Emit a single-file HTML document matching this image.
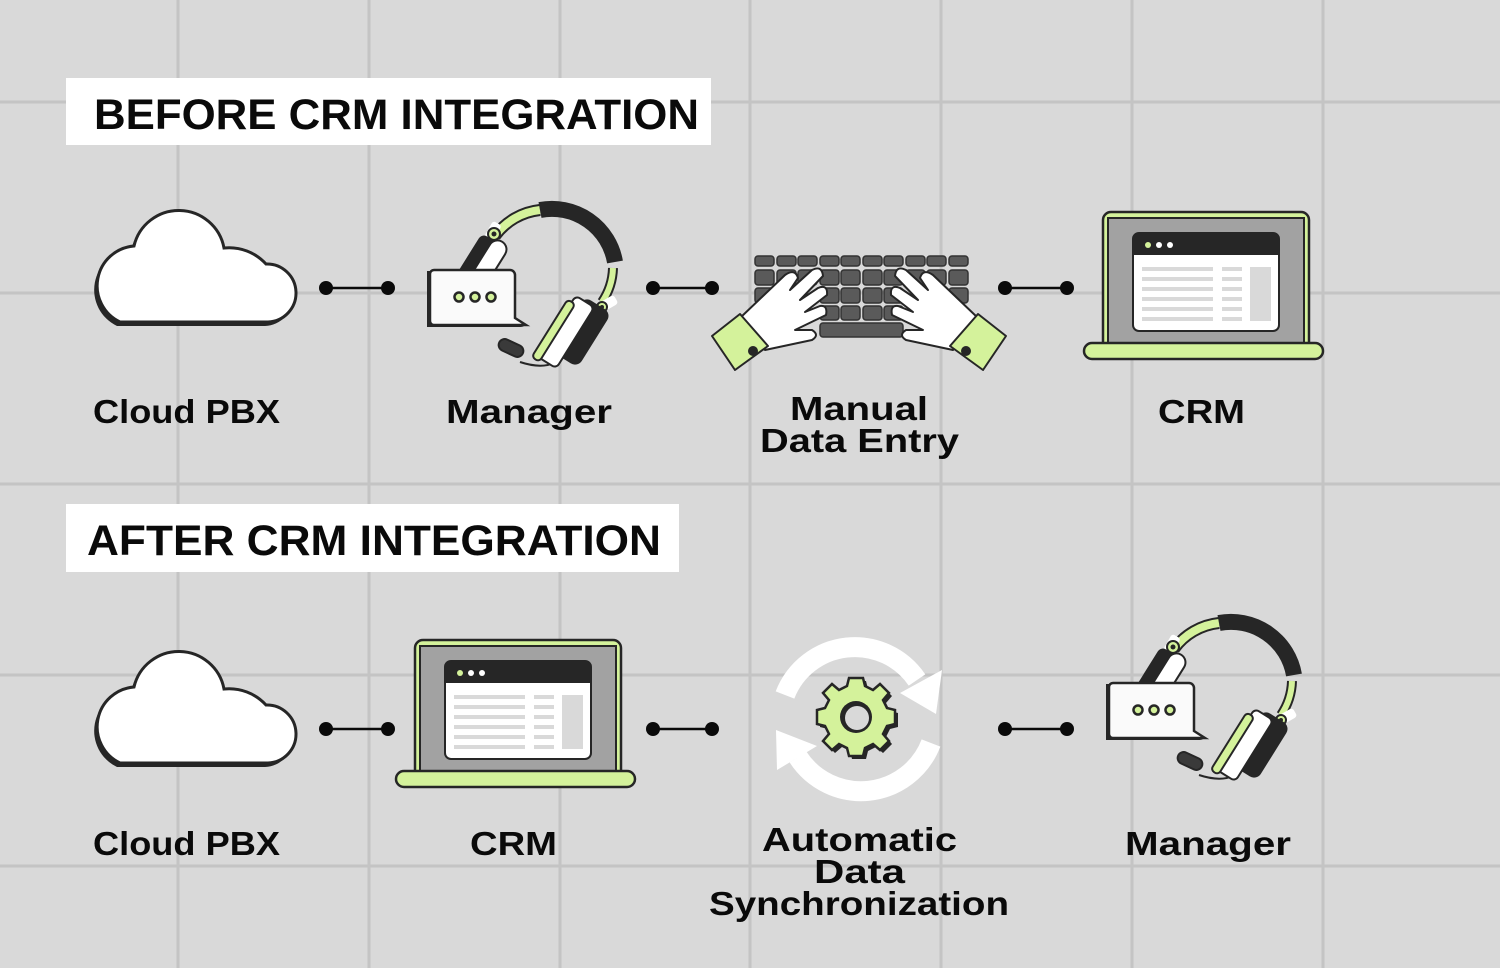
<!DOCTYPE html>
<html><head><meta charset="utf-8"><style>html,body{margin:0;padding:0;background:#d9d9d9}svg{display:block}text{font-family:"Liberation Sans",sans-serif;font-weight:bold;fill:#0a0a0a}</style></head>
<body>
<svg width="1500" height="968" viewBox="0 0 1500 968" xmlns="http://www.w3.org/2000/svg">
<defs>
<g id="cloud">
<path d="M120 326 H268 A29 29 0 0 0 266 268 A50 50 0 0 0 224 252 A46 46 0 0 0 134 250 A40 40 0 0 0 120 326 Z" fill="#262626" transform="translate(-3,0)"/>
<path d="M120 322 H268 A29 29 0 0 0 266 264 A50 50 0 0 0 224 248 A46 46 0 0 0 134 246 A40 40 0 0 0 120 322 Z" fill="#fff" stroke="#262626" stroke-width="3"/>
</g>
<g id="laptop">
<rect x="1103" y="212" width="206" height="140" rx="8" fill="#d4f29b" stroke="#262626" stroke-width="2.5"/>
<rect x="1108" y="218" width="196" height="130" fill="#a2a2a2" stroke="#262626" stroke-width="2"/>
<rect x="1133" y="233" width="146" height="98" rx="6" fill="#fff" stroke="#262626" stroke-width="2"/>
<path d="M1139 233 H1273 A6 6 0 0 1 1279 239 V255 H1133 V239 A6 6 0 0 1 1139 233Z" fill="#262626"/>
<circle cx="1148" cy="245" r="3" fill="#d4f29b"/><circle cx="1159" cy="245" r="3" fill="#fff"/><circle cx="1170" cy="245" r="3" fill="#fff"/>
<g fill="#d9d9d9">
<rect x="1142" y="267" width="71" height="4"/><rect x="1142" y="277" width="71" height="4"/><rect x="1142" y="287" width="71" height="4"/><rect x="1142" y="297" width="71" height="4"/><rect x="1142" y="307" width="71" height="4"/><rect x="1142" y="317" width="71" height="4"/>
<rect x="1222" y="267" width="20" height="4"/><rect x="1222" y="277" width="20" height="4"/><rect x="1222" y="287" width="20" height="4"/><rect x="1222" y="297" width="20" height="4"/><rect x="1222" y="307" width="20" height="4"/><rect x="1222" y="317" width="20" height="4"/>
<rect x="1250" y="267" width="21" height="54"/></g>
<rect x="1084" y="343" width="239" height="16" rx="8" fill="#d4f29b" stroke="#262626" stroke-width="2.5"/>
</g>
<g id="headset">
<path d="M495 236 A64 64 0 0 1 540 210" fill="none" stroke="#262626" stroke-width="12"/>
<path d="M495 236 A64 64 0 0 1 540 210" fill="none" stroke="#d4f29b" stroke-width="8"/>
<path d="M540 210 A64 64 0 0 1 615 262" fill="none" stroke="#262626" stroke-width="16"/>
<path d="M613 268 A64 64 0 0 1 602 302" fill="none" stroke="#262626" stroke-width="10"/>
<path d="M613 268 A64 64 0 0 1 602 302" fill="none" stroke="#d4f29b" stroke-width="6"/>
<rect x="488" y="222" width="10" height="18" rx="3" fill="#fff" transform="rotate(30 493 231)"/>
<circle cx="494" cy="234" r="6" fill="#d4f29b" stroke="#262626" stroke-width="2"/><circle cx="494" cy="234" r="2.5" fill="#262626"/>
<rect x="466" y="235" width="22" height="55" rx="6" fill="#262626" transform="rotate(32 477 262)"/>
<rect x="480" y="238" width="18" height="50" rx="9" fill="#fff" stroke="#262626" stroke-width="2" transform="rotate(32 489 263)"/>
<rect x="604" y="295" width="10" height="16" rx="3" fill="#fff" transform="rotate(60 609 303)"/>
<circle cx="602" cy="307" r="5" fill="#d4f29b" stroke="#262626" stroke-width="2"/><circle cx="602" cy="307" r="2" fill="#262626"/>
<path d="M565 355 Q550 372 520 362" fill="none" stroke="#262626" stroke-width="2"/>
<rect x="498" y="342" width="26" height="12" rx="6" fill="#3a3a3a" stroke="#262626" stroke-width="2" transform="rotate(25 511 348)"/>
<rect x="565" y="300" width="32" height="64" rx="8" fill="#262626" transform="rotate(32 581 332)"/>
<rect x="555" y="296" width="22" height="72" rx="5" fill="#fff" stroke="#262626" stroke-width="2" transform="rotate(32 566 332)"/>
<rect x="548" y="296" width="9" height="68" rx="4" fill="#d4f29b" stroke="#262626" stroke-width="2" transform="rotate(32 552 332)"/>
<path d="M431 270 H515 V322 L528 326 H431 Z" fill="#262626" transform="translate(-4,1)"/>
<path d="M434 270 H510 A5 5 0 0 1 515 275 V318 L526 325 H434 A4 4 0 0 1 430 321 V274 A4 4 0 0 1 434 270Z" fill="#fafafa" stroke="#262626" stroke-width="2.5"/>
<g fill="#d4f29b" stroke="#262626" stroke-width="2.5"><circle cx="459" cy="297" r="4.5"/><circle cx="475" cy="297" r="4.5"/><circle cx="491" cy="297" r="4.5"/></g>
</g>
</defs>
<rect width="1500" height="968" fill="#d9d9d9"/>
<g stroke="#c4c4c4" stroke-width="3">
<line x1="178" y1="0" x2="178" y2="968"/><line x1="369" y1="0" x2="369" y2="968"/><line x1="560" y1="0" x2="560" y2="968"/><line x1="750" y1="0" x2="750" y2="968"/><line x1="941" y1="0" x2="941" y2="968"/><line x1="1132" y1="0" x2="1132" y2="968"/><line x1="1323" y1="0" x2="1323" y2="968"/>
<line x1="0" y1="102" x2="1500" y2="102"/><line x1="0" y1="293" x2="1500" y2="293"/><line x1="0" y1="484" x2="1500" y2="484"/><line x1="0" y1="675" x2="1500" y2="675"/><line x1="0" y1="866" x2="1500" y2="866"/>
</g>
<rect x="66" y="78" width="645" height="67" fill="#fff"/>
<text x="94" y="129" font-size="43" textLength="605" lengthAdjust="spacingAndGlyphs">BEFORE CRM INTEGRATION</text>
<rect x="66" y="504" width="613" height="68" fill="#fff"/>
<text x="87" y="555" font-size="43" textLength="574" lengthAdjust="spacingAndGlyphs">AFTER CRM INTEGRATION</text>

<use href="#cloud"/>
<use href="#headset"/>
<use href="#laptop"/>
<use href="#cloud" transform="translate(0,441)"/>
<use href="#laptop" transform="translate(-688,428)"/>
<use href="#headset" transform="translate(679,413)"/>

<!-- keyboard -->
<g fill="#5a5a5a" stroke="#333" stroke-width="1.5">
<rect x="755" y="256" width="19" height="10" rx="3"/><rect x="777" y="256" width="19" height="10" rx="3"/><rect x="798" y="256" width="19" height="10" rx="3"/><rect x="820" y="256" width="19" height="10" rx="3"/><rect x="841" y="256" width="19" height="10" rx="3"/><rect x="863" y="256" width="19" height="10" rx="3"/><rect x="884" y="256" width="19" height="10" rx="3"/><rect x="906" y="256" width="19" height="10" rx="3"/><rect x="927" y="256" width="19" height="10" rx="3"/><rect x="949" y="256" width="19" height="10" rx="3"/>
<rect x="755" y="270" width="19" height="15" rx="3"/><rect x="777" y="270" width="19" height="15" rx="3"/><rect x="798" y="270" width="19" height="15" rx="3"/><rect x="820" y="270" width="19" height="15" rx="3"/><rect x="841" y="270" width="19" height="15" rx="3"/><rect x="863" y="270" width="19" height="15" rx="3"/><rect x="884" y="270" width="19" height="15" rx="3"/><rect x="906" y="270" width="19" height="15" rx="3"/><rect x="927" y="270" width="19" height="15" rx="3"/><rect x="949" y="270" width="19" height="15" rx="3"/>
<rect x="755" y="288" width="19" height="15" rx="3"/><rect x="820" y="288" width="19" height="15" rx="3"/><rect x="841" y="288" width="19" height="15" rx="3"/><rect x="863" y="288" width="19" height="15" rx="3"/><rect x="884" y="288" width="19" height="15" rx="3"/><rect x="949" y="288" width="19" height="15" rx="3"/>
<rect x="820" y="306" width="19" height="14" rx="3"/><rect x="841" y="306" width="19" height="14" rx="3"/><rect x="863" y="306" width="19" height="14" rx="3"/><rect x="884" y="306" width="19" height="14" rx="3"/>
<rect x="820" y="323" width="83" height="14" rx="3"/>
</g>
<!-- hands -->
<g stroke="#262626" stroke-width="2" stroke-linejoin="round">
<path d="M740 318 L785 275 Q795 268 798 278 L790 290 L812 270 Q822 265 823 276 L800 300 L818 288 Q828 284 827 295 L805 312 L820 306 Q828 305 826 315 L795 330 L812 330 Q820 335 812 340 L765 350 Z" fill="#fff"/>
<path d="M712 336 L740 314 L768 346 L735 370 Z" fill="#d4f29b"/>
<circle cx="753" cy="351" r="4" fill="#262626"/>
<path d="M978 318 L933 275 Q923 268 920 278 L928 290 L906 270 Q896 265 895 276 L918 300 L900 288 Q890 284 891 295 L913 312 L898 306 Q890 305 892 315 L923 330 L906 330 Q898 335 906 340 L953 350 Z" fill="#fff"/>
<path d="M1006 336 L978 314 L950 346 L983 370 Z" fill="#d4f29b"/>
<circle cx="966" cy="351" r="4" fill="#262626"/>
</g>

<!-- sync -->
<g fill="none" stroke="#fff" stroke-width="20">
<path d="M785 695 A75 75 0 0 1 917 680"/>
<path d="M931 743 A75 75 0 0 1 798 757"/>
</g>
<g fill="#fff"><path d="M900 693 L942 670 L936 714 Z"/><path d="M776 730 L817 746 L777 770 Z"/></g>
<g transform="translate(856,717)">
<path d="M-7 -39 H7 L9 -31 L17 -27 L24 -33 L33 -24 L27 -17 L31 -9 L39 -7 V7 L31 9 L27 17 L33 24 L24 33 L17 27 L9 31 L7 39 H-7 L-9 31 L-17 27 L-24 33 L-33 24 L-27 17 L-31 9 L-39 7 V-7 L-31 -9 L-27 -17 L-33 -24 L-24 -33 L-17 -27 L-9 -31 Z" fill="#262626" transform="translate(3,3)"/>
<path d="M-7 -39 H7 L9 -31 L17 -27 L24 -33 L33 -24 L27 -17 L31 -9 L39 -7 V7 L31 9 L27 17 L33 24 L24 33 L17 27 L9 31 L7 39 H-7 L-9 31 L-17 27 L-24 33 L-33 24 L-27 17 L-31 9 L-39 7 V-7 L-31 -9 L-27 -17 L-33 -24 L-24 -33 L-17 -27 L-9 -31 Z" fill="#d4f29b" stroke="#262626" stroke-width="2.5"/>
<circle r="16" fill="#262626"/><circle cx="1" cy="1" r="12" fill="#d9d9d9"/>
</g>

<!-- connectors -->
<g stroke="#0a0a0a" stroke-width="2.5"><line x1="326" y1="288" x2="388" y2="288"/><line x1="653" y1="288" x2="712" y2="288"/><line x1="1005" y1="288" x2="1067" y2="288"/>
<line x1="326" y1="729" x2="388" y2="729"/><line x1="653" y1="729" x2="712" y2="729"/><line x1="1005" y1="729" x2="1067" y2="729"/></g>
<g fill="#0a0a0a"><circle cx="326" cy="288" r="7"/><circle cx="388" cy="288" r="7"/><circle cx="653" cy="288" r="7"/><circle cx="712" cy="288" r="7"/><circle cx="1005" cy="288" r="7"/><circle cx="1067" cy="288" r="7"/>
<circle cx="326" cy="729" r="7"/><circle cx="388" cy="729" r="7"/><circle cx="653" cy="729" r="7"/><circle cx="712" cy="729" r="7"/><circle cx="1005" cy="729" r="7"/><circle cx="1067" cy="729" r="7"/></g>

<!-- labels -->
<g font-size="33">
<text x="93" y="423" textLength="187" lengthAdjust="spacingAndGlyphs">Cloud PBX</text>
<text x="446" y="423" textLength="166" lengthAdjust="spacingAndGlyphs">Manager</text>
<text x="790" y="420" textLength="138" lengthAdjust="spacingAndGlyphs">Manual</text>
<text x="760" y="452" textLength="199" lengthAdjust="spacingAndGlyphs">Data Entry</text>
<text x="1158" y="423" textLength="87" lengthAdjust="spacingAndGlyphs">CRM</text>
<text x="93" y="855" textLength="187" lengthAdjust="spacingAndGlyphs">Cloud PBX</text>
<text x="470" y="855" textLength="87" lengthAdjust="spacingAndGlyphs">CRM</text>
<text x="762" y="851" textLength="195" lengthAdjust="spacingAndGlyphs">Automatic</text>
<text x="814" y="883" textLength="91" lengthAdjust="spacingAndGlyphs">Data</text>
<text x="709" y="915" textLength="300" lengthAdjust="spacingAndGlyphs">Synchronization</text>
<text x="1125" y="855" textLength="166" lengthAdjust="spacingAndGlyphs">Manager</text>
</g>
</svg>
</body></html>
